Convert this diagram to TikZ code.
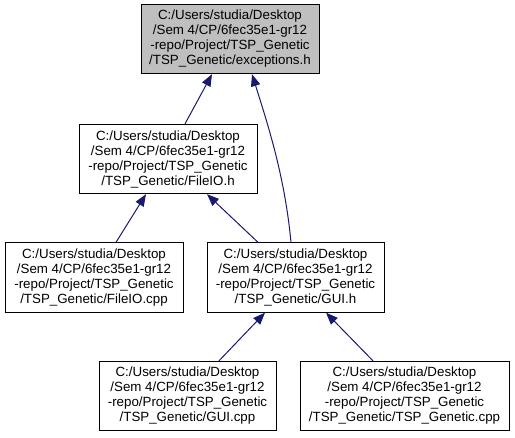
\documentclass[tikz,border=0pt]{standalone}
\usepackage{fontspec}
\setmainfont{Liberation Sans}
\usetikzlibrary{arrows.meta,calc}
\definecolor{edgecol}{HTML}{191970}
\definecolor{hilite}{HTML}{BFBFBF}
\tikzset{
  filebox/.style={draw=black, line width=0.75pt, fill=white, inner sep=0pt,
    minimum height=52pt, align=center,
    font=\fontsize{10}{11.25}\selectfont},
  edge/.style={draw=edgecol, line width=0.75pt,
    -{Triangle[length=9pt,width=7pt]}},
}
\begin{document}
\begin{tikzpicture}[x=0.75pt,y=-0.75pt]
\useasboundingbox (0,0) rectangle (515,437);
\node[filebox, fill=hilite, minimum width=133.5pt] (exc) at (230,39)
  {C:/Users/studia/Desktop\\/Sem 4/CP/6fec35e1-gr12\\-repo/Project/TSP\_Genetic\\/TSP\_Genetic/exceptions.h};
\node[filebox, minimum width=133.5pt] (fioh) at (168,159)
  {C:/Users/studia/Desktop\\/Sem 4/CP/6fec35e1-gr12\\-repo/Project/TSP\_Genetic\\/TSP\_Genetic/FileIO.h};
\node[filebox, minimum width=133.5pt] (fiocpp) at (94,277.5)
  {C:/Users/studia/Desktop\\/Sem 4/CP/6fec35e1-gr12\\-repo/Project/TSP\_Genetic\\/TSP\_Genetic/FileIO.cpp};
\node[filebox, minimum width=132.75pt] (guih) at (295.5,277.5)
  {C:/Users/studia/Desktop\\/Sem 4/CP/6fec35e1-gr12\\-repo/Project/TSP\_Genetic\\/TSP\_Genetic/GUI.h};
\node[filebox, minimum width=132.75pt] (guicpp) at (187.5,396)
  {C:/Users/studia/Desktop\\/Sem 4/CP/6fec35e1-gr12\\-repo/Project/TSP\_Genetic\\/TSP\_Genetic/GUI.cpp};
\node[filebox, minimum width=156.75pt] (tspcpp) at (404.5,396)
  {C:/Users/studia/Desktop\\/Sem 4/CP/6fec35e1-gr12\\-repo/Project/TSP\_Genetic\\/TSP\_Genetic/TSP\_Genetic.cpp};

\draw[edge] ($(fioh.north)+(17,0)$) -- ($(exc.south)+(-18,0)$);
\draw[edge] ($(guih.north)+(-4.5,0)$) .. controls ($(guih.north)+(-10.5,-63)$) and ($(exc.south)+(40,57)$) .. ($(exc.south)+(22,0)$);
\draw[edge] ($(fiocpp.north)+(22,0)$) -- ($(fioh.south)+(-22,0)$);
\draw[edge] ($(guih.north)+(-37.5,0)$) -- ($(fioh.south)+(39,0)$);
\draw[edge] ($(guicpp.north)+(31.5,0)$) -- ($(guih.south)+(-30.5,0)$);
\draw[edge] ($(tspcpp.north)+(-31.5,0)$) -- ($(guih.south)+(30.5,0)$);
\end{tikzpicture}
\end{document}
